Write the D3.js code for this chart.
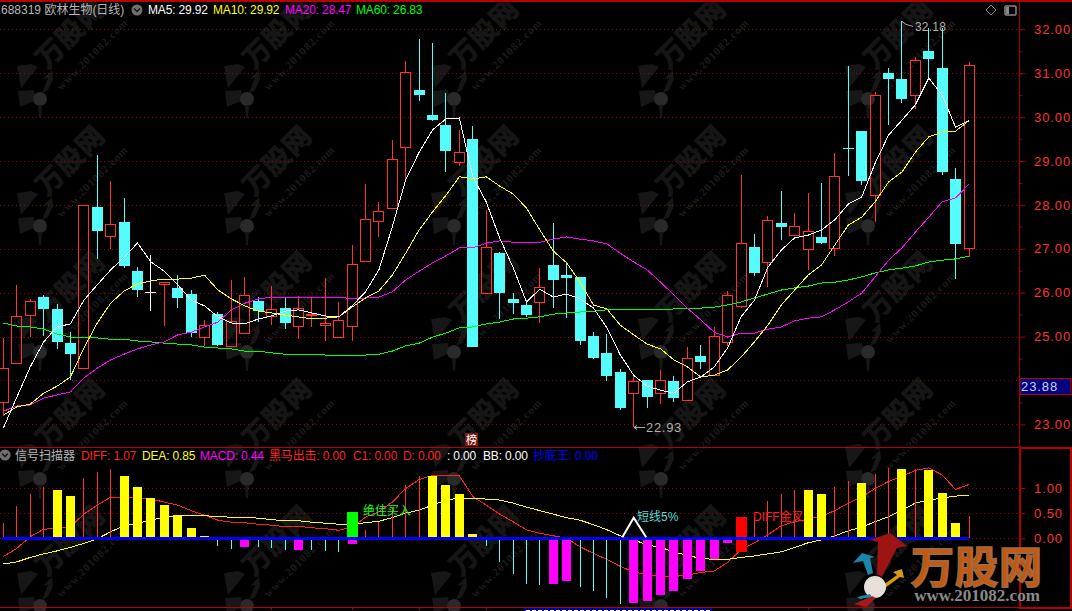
<!DOCTYPE html>
<html>
<head>
<meta charset="utf-8">
<title>688319 欧林生物(日线)</title>
<script src="https://cdnjs.cloudflare.com/ajax/libs/d3/7.8.5/d3.min.js"></script>
<style>
    html, body { margin: 0; padding: 0; background: #000; overflow: hidden; }
    svg { display: block; }
    text { font-family: "Liberation Sans", "Noto Sans CJK SC", sans-serif; font-size: 12px; letter-spacing: -.15px; }
    .tick text { fill: #ff3232; font-size: 13px; letter-spacing: .9px; }
    .tick line, .domain { stroke: #a80000; }
</style>
</head>
<body>
<div id="chart"></div>
<script>
// candles, left to right
var open = [23.52, 24.40, 25.50, 25.90, 25.63, 24.85, 24.29, 27.95, 27.30, 27.61, 26.49, 26.02, 26.20, 26.11, 25.97, 25.00, 25.51, 24.79, 25.09, 25.81, 25.48, 25.66, 25.25, 25.49, 25.27, 25.00, 25.25, 26.73, 27.64, 27.94, 29.33, 30.62, 30.05, 29.81, 28.98, 29.50, 26.00, 26.90, 25.86, 25.72, 25.79, 26.63, 26.40, 26.36, 25.01, 24.63, 24.19, 23.72, 24.01, 23.72, 23.99, 23.56, 24.56, 24.12, 24.88, 25.70, 27.04, 26.71, 27.59, 27.32, 27.00, 27.27, 27.01, 29.29, 29.68, 28.22, 31.00, 30.87, 30.50, 31.50, 31.12, 28.59, 27.01];
var close = [24.28, 25.48, 25.81, 25.63, 24.88, 24.60, 28.00, 27.41, 27.56, 26.61, 26.06, 26.02, 26.24, 25.88, 25.08, 25.26, 24.81, 25.36, 25.94, 25.58, 25.64, 25.31, 25.65, 25.52, 25.32, 25.38, 26.65, 27.67, 27.85, 29.04, 31.02, 30.50, 29.93, 29.23, 29.20, 24.76, 27.03, 25.99, 25.77, 25.49, 26.12, 26.29, 26.33, 24.90, 24.51, 24.10, 23.37, 23.98, 23.62, 24.00, 23.60, 24.51, 24.42, 25.01, 25.95, 27.13, 26.45, 27.66, 27.50, 27.52, 27.41, 27.13, 28.65, 29.29, 28.54, 30.50, 30.87, 30.41, 31.29, 31.32, 28.75, 27.12, 31.18];
var high = [24.97, 26.18, 25.86, 25.95, 25.74, 25.10, 28.00, 29.14, 28.54, 28.16, 26.58, 26.86, 26.24, 26.40, 26.06, 25.38, 25.56, 26.29, 26.36, 25.90, 26.15, 25.90, 25.92, 25.88, 26.33, 25.79, 27.09, 28.48, 28.07, 29.48, 31.28, 31.78, 31.69, 30.55, 29.71, 29.80, 27.88, 26.93, 25.99, 25.83, 26.56, 27.59, 26.70, 26.36, 25.10, 25.06, 24.26, 24.15, 24.01, 24.24, 24.10, 24.76, 24.81, 25.22, 26.04, 28.68, 27.34, 27.75, 28.32, 27.82, 28.28, 28.50, 29.18, 31.16, 29.68, 30.57, 31.12, 32.18, 31.37, 32.03, 32.03, 28.84, 31.25];
var low = [23.19, 24.40, 25.00, 25.01, 24.72, 24.01, 24.29, 26.77, 27.00, 26.57, 25.90, 25.59, 25.24, 25.66, 24.99, 24.79, 24.79, 24.79, 25.09, 25.33, 25.26, 25.17, 24.94, 25.22, 24.90, 25.00, 24.90, 26.73, 27.28, 27.94, 28.52, 30.37, 29.91, 28.75, 28.89, 24.76, 26.00, 25.41, 25.51, 25.45, 25.32, 25.65, 25.42, 24.81, 24.49, 23.99, 23.33, 22.93, 23.37, 23.47, 23.51, 23.56, 24.26, 24.12, 24.79, 25.66, 26.38, 26.13, 27.20, 27.32, 26.52, 27.11, 26.84, 28.66, 28.45, 27.61, 29.82, 30.32, 30.18, 30.89, 28.68, 26.31, 26.82];
var dojiWhite = [11];

var ma5 = [22.92, 23.62, 24.31, 24.88, 25.22, 25.29, 25.83, 26.18, 26.52, 26.81, 27.13, 26.70, 26.49, 26.18, 25.83, 25.70, 25.45, 25.31, 25.29, 25.40, 25.47, 25.58, 25.61, 25.54, 25.47, 25.45, 25.70, 26.02, 26.52, 27.50, 28.57, 29.20, 29.71, 29.96, 29.98, 28.64, 28.07, 27.25, 26.58, 25.79, 26.08, 25.90, 25.97, 25.86, 25.65, 25.20, 24.58, 24.12, 23.87, 23.78, 23.71, 23.97, 24.08, 24.31, 24.74, 25.45, 25.83, 26.58, 26.97, 27.25, 27.31, 27.43, 27.66, 28.02, 28.18, 28.95, 29.59, 29.93, 30.28, 30.89, 30.50, 29.77, 29.92];
var ma10 = [23.21, 23.40, 23.46, 23.71, 23.87, 24.08, 24.74, 25.31, 25.76, 26.04, 26.20, 26.27, 26.31, 26.31, 26.33, 26.40, 26.06, 25.86, 25.70, 25.58, 25.54, 25.49, 25.45, 25.40, 25.42, 25.45, 25.67, 25.88, 26.04, 26.40, 26.90, 27.43, 27.84, 28.22, 28.64, 28.59, 28.64, 28.43, 28.25, 27.93, 27.43, 26.95, 26.68, 26.24, 25.72, 25.63, 25.26, 25.04, 24.83, 24.72, 24.47, 24.31, 24.08, 24.12, 24.24, 24.53, 24.88, 25.26, 25.72, 26.06, 26.40, 26.63, 27.09, 27.54, 27.72, 28.07, 28.52, 28.75, 29.20, 29.55, 29.66, 29.68, 29.92];
var ma20 = [23.30, 23.42, 23.44, 23.60, 23.67, 23.74, 24.06, 24.28, 24.47, 24.60, 24.72, 24.81, 24.88, 25.04, 25.10, 25.22, 25.33, 25.61, 25.76, 25.86, 25.90, 25.88, 25.88, 25.88, 25.90, 25.90, 25.86, 25.88, 25.90, 26.02, 26.29, 26.49, 26.68, 26.84, 27.02, 27.02, 27.13, 27.18, 27.15, 27.15, 27.15, 27.22, 27.27, 27.22, 27.18, 27.11, 26.90, 26.70, 26.52, 26.24, 25.95, 25.65, 25.38, 25.10, 24.99, 25.08, 25.08, 25.17, 25.22, 25.36, 25.42, 25.45, 25.61, 25.79, 25.99, 26.36, 26.74, 27.02, 27.38, 27.72, 28.07, 28.16, 28.47];
var ma60 = [25.31, 25.24, 25.22, 25.17, 25.06, 24.99, 24.97, 24.97, 24.94, 24.94, 24.90, 24.88, 24.85, 24.83, 24.81, 24.76, 24.74, 24.72, 24.67, 24.67, 24.63, 24.60, 24.60, 24.60, 24.58, 24.56, 24.56, 24.58, 24.60, 24.67, 24.79, 24.85, 24.99, 25.08, 25.20, 25.22, 25.29, 25.33, 25.40, 25.42, 25.45, 25.51, 25.54, 25.56, 25.58, 25.61, 25.61, 25.61, 25.61, 25.61, 25.63, 25.63, 25.65, 25.67, 25.72, 25.79, 25.88, 25.97, 26.06, 26.11, 26.15, 26.22, 26.24, 26.29, 26.36, 26.45, 26.52, 26.56, 26.61, 26.70, 26.74, 26.77, 26.83];

// lower panel
var diff = [-0.36, -0.20, 0.03, 0.18, 0.20, 0.23, 0.48, 0.66, 0.82, 0.82, 0.80, 0.78, 0.72, 0.66, 0.55, 0.46, 0.36, 0.32, 0.31, 0.28, 0.26, 0.23, 0.24, 0.21, 0.19, 0.16, 0.22, 0.42, 0.53, 0.72, 0.99, 1.17, 1.25, 1.25, 1.24, 0.83, 0.66, 0.48, 0.33, 0.17, 0.10, 0.05, 0.00, -0.17, -0.30, -0.42, -0.56, -0.67, -0.72, -0.76, -0.76, -0.73, -0.68, -0.65, -0.48, -0.23, -0.09, 0.07, 0.25, 0.33, 0.38, 0.44, 0.55, 0.70, 0.82, 0.99, 1.13, 1.23, 1.35, 1.40, 1.26, 0.97, 1.07];
var dea = [-0.51, -0.47, -0.38, -0.31, -0.25, -0.18, -0.10, -0.01, 0.13, 0.25, 0.30, 0.36, 0.42, 0.45, 0.46, 0.45, 0.43, 0.42, 0.42, 0.40, 0.37, 0.35, 0.35, 0.32, 0.30, 0.28, 0.28, 0.31, 0.34, 0.41, 0.50, 0.56, 0.66, 0.76, 0.80, 0.80, 0.78, 0.76, 0.70, 0.62, 0.55, 0.48, 0.41, 0.36, 0.27, 0.17, 0.05, -0.03, -0.13, -0.18, -0.27, -0.34, -0.40, -0.42, -0.42, -0.38, -0.35, -0.31, -0.27, -0.18, -0.09, -0.03, 0.05, 0.15, 0.22, 0.33, 0.43, 0.56, 0.70, 0.76, 0.80, 0.84, 0.85];
var macd = [0.30, 0.64, 0.88, 1.01, 0.96, 0.84, 1.20, 1.32, 1.38, 1.24, 1.02, 0.80, 0.66, 0.46, 0.21, 0.05, -0.15, -0.21, -0.17, -0.17, -0.19, -0.23, -0.23, -0.23, -0.25, -0.27, -0.11, 0.17, 0.33, 0.63, 1.06, 1.24, 1.24, 1.06, 0.88, 0.09, -0.15, -0.47, -0.71, -0.91, -0.93, -0.91, -0.85, -0.97, -1.05, -1.19, -1.31, -1.29, -1.25, -1.13, -1.05, -0.81, -0.65, -0.41, -0.10, -0.27, 0.42, 0.74, 0.88, 0.96, 0.96, 0.88, 1.01, 1.14, 1.10, 1.28, 1.40, 1.38, 1.38, 1.36, 0.90, 0.30, 0.44];
var fatBars = [4, 5, 9, 10, 11, 12, 13, 14, 15, 18, 22, 26, 32, 33, 34, 35, 41, 42, 47, 48, 49, 50, 51, 52, 53, 54, 60, 61, 64, 67, 69, 70, 71];
var signalAt = [26, 55];
var signalTop = [0.52, 0.42];
var signalBottom = [0, -0.27];
var signalColor = ["#00ff00", "#ff0000"];

var priceTicks = [23, 24, 25, 26, 27, 28, 29, 30, 31, 32];
var priceMinor = [22.5, 23.5, 24.5, 25.5, 26.5, 27.5, 28.5, 29.5, 30.5, 31.5];
var macdTicks = [0, 0.5, 1];
var currentPrice = 23.88;
var timeTicks = [3, 20, 26, 31, 36, 60];

var titleLabels = [["MA5: 29.92", "#fff", 148], ["MA10: 29.92", "#ffff00", 213], ["MA20: 28.47", "#ff00ff", 285], ["MA60: 26.83", "#00ff00", 356]];
var lowerLabels = [["DIFF: 1.07", "#ff2020", 81], ["DEA: 0.85", "#ffff00", 142], ["MACD: 0.44", "#ff00ff", 200], ["黑马出击: 0.00", "#ff2020", 269], ["C1: 0.00", "#ff2020", 353], ["D: 0.00", "#ff2020", 403], [": 0.00", "#fff", 447], ["BB: 0.00", "#fff", 483], ["抄底王: 0.00", "#0000ff", 533]];

var width = 1072, height = 611, plotRight = 1019;

var x = d3.scaleLinear().domain([0, open.length - 1]).range([3.4, 969]);
var y = d3.scaleLinear().domain([23, 32]).range([424.4, 29.3]);
var yLow = d3.scaleLinear().domain([0, 1]).range([538.3, 488]);
var px = function (i) { return Math.floor(x(i)); };

var red = "#ff3232", cyan = "#54fcfc";

var svg = d3.select("#chart").append("svg")
    .attr("width", width)
    .attr("height", height);

svg.append("rect").attr("width", width).attr("height", height).attr("fill", "#000");

// repeated site watermark, lies under everything
var defs = svg.append("defs");
var wm = defs.append("g").attr("id", "wm");
wm.append("text").attr("transform", "rotate(-45)").attr("text-anchor", "middle")
    .attr("fill", "#161616").attr("stroke", "#161616").attr("stroke-width", 1)
    .style("font-size", "27px").style("font-weight", "bold").style("letter-spacing", "1px").text("万股网");
wm.append("text").attr("transform", "translate(18,17) rotate(-45)").attr("text-anchor", "middle")
    .attr("fill", "#1c1c1c").style("font-family", "Liberation Serif").style("font-size", "11px")
    .style("font-weight", "bold").style("letter-spacing", "1px").text("www.201082.com");
var bull = wm.append("g").attr("transform", "translate(-37,54)").attr("fill", "#171717");
bull.append("path").attr("d", "M-6,-4 L-22,-3 L-20,13 L-4,6Z");
bull.append("path").attr("d", "M-19,-6 L-2,-27 L-9,-30 L-23,-28Z");
bull.append("path").attr("d", "M2,-1 L8,-16 L3,-15 L12,-24 L13,-15 L8,-4Z");
bull.append("circle").attr("r", 7).attr("cy", 5).attr("fill", "#2a2a2a");
bull.append("path").attr("d", "M-2,11 L2,11 L1,24 L-1,24Z");

[40, 167, 293, 420, 547].forEach(function (wy) {
    [77, 284, 491, 698, 905].forEach(function (wx) {
        svg.append("use").attr("href", "#wm").attr("x", wx).attr("y", wy);
    });
});

// frame
var frame = svg.append("g").attr("stroke", "#b80000").attr("shape-rendering", "crispEdges");
frame.append("rect").attr("x", 0).attr("y", 0).attr("width", width).attr("height", 2).attr("fill", "#b80000").attr("stroke", "none");
[447.5, 607.5].forEach(function (ly) {
    frame.append("line").attr("x1", 0).attr("x2", width).attr("y1", ly).attr("y2", ly);
});
frame.append("rect").attr("x", 1020).attr("y", 447.5).attr("width", 51).attr("height", 160).attr("fill", "none").attr("stroke-width", 2);
frame.selectAll(".timeTick").data(timeTicks).enter().append("line")
    .attr("x1", function (d) { return px(d) + 0.5; })
    .attr("x2", function (d) { return px(d) + 0.5; })
    .attr("y1", 607.5).attr("y2", 610);

// dotted grid
var grid = svg.append("g").attr("stroke", "#a00000").attr("stroke-dasharray", "1,3").attr("shape-rendering", "crispEdges");
grid.selectAll(".p").data(priceTicks).enter().append("line")
    .attr("x1", 0).attr("x2", plotRight)
    .attr("y1", function (d) { return Math.round(y(d)) + 0.5; })
    .attr("y2", function (d) { return Math.round(y(d)) + 0.5; });
grid.selectAll(".m").data(macdTicks).enter().append("line")
    .attr("x1", 0).attr("x2", plotRight)
    .attr("y1", function (d) { return Math.round(yLow(d)) + 0.5; })
    .attr("y2", function (d) { return Math.round(yLow(d)) + 0.5; });

// candle wicks and bodies
var idx = d3.range(open.length);
var candles = svg.append("g").attr("shape-rendering", "crispEdges");

var isUp = function (i) { return close[i] > open[i]; };
var isDoji = function (i) { return close[i] === open[i]; };
var tone = function (i) {
    if (dojiWhite.indexOf(i) >= 0) return "#fff";
    return isUp(i) ? red : cyan;
};

candles.selectAll(".wick-hi").data(idx).enter().append("line")
    .attr("x1", function (i) { return px(i) + 0.5; })
    .attr("x2", function (i) { return px(i) + 0.5; })
    .attr("y1", function (i) { return y(high[i]); })
    .attr("y2", function (i) { return y(Math.max(open[i], close[i])); })
    .attr("stroke", tone);
candles.selectAll(".wick-lo").data(idx).enter().append("line")
    .attr("x1", function (i) { return px(i) + 0.5; })
    .attr("x2", function (i) { return px(i) + 0.5; })
    .attr("y1", function (i) { return y(Math.min(open[i], close[i])); })
    .attr("y2", function (i) { return y(low[i]); })
    .attr("stroke", tone);

candles.selectAll(".body-up").data(idx.filter(isUp)).enter().append("rect")
    .attr("x", function (i) { return px(i) - 4.5; })
    .attr("width", 10)
    .attr("y", function (i) { return Math.round(y(close[i])) + 0.5; })
    .attr("height", function (i) { return Math.round(y(open[i])) - Math.round(y(close[i])); })
    .attr("fill", "none")
    .attr("stroke", red);

candles.selectAll(".body-down").data(idx.filter(function (i) { return !isUp(i) && !isDoji(i); })).enter().append("rect")
    .attr("x", function (i) { return px(i) - 5; })
    .attr("width", 11)
    .attr("y", function (i) { return y(open[i]); })
    .attr("height", function (i) { return y(close[i]) - y(open[i]); })
    .attr("fill", cyan);

candles.selectAll(".doji").data(idx.filter(isDoji)).enter().append("line")
    .attr("x1", function (i) { return px(i) - 5; })
    .attr("x2", function (i) { return px(i) + 6; })
    .attr("y1", function (i) { return Math.round(y(open[i])) + 0.5; })
    .attr("y2", function (i) { return Math.round(y(open[i])) + 0.5; })
    .attr("stroke", tone);

// moving averages
function addLine(values, scale, color) {
    var line = d3.line()
        .x(function (d, i) { return x(i); })
        .y(function (d) { return scale(d); });
    svg.append("path")
        .attr("d", line(values))
        .attr("fill", "none")
        .attr("stroke", color)
        .attr("stroke-width", 1)
        .attr("shape-rendering", "crispEdges");
}

addLine(ma60, y, "#00ff00");
addLine(ma20, y, "#ff00ff");
addLine(ma10, y, "#ffff00");
addLine(ma5, y, "#ffffff");

// lower panel, lines sit under the bars
addLine(diff, yLow, "#ff2020");
addLine(dea, yLow, "#ffff00");

var bars = svg.append("g").attr("shape-rendering", "crispEdges");
var isFat = function (i) { return fatBars.indexOf(i) >= 0; };
var barColor = function (i) {
    if (macd[i] >= 0) return isFat(i) ? "#ffff00" : red;
    return isFat(i) ? "#ff00ff" : cyan;
};

bars.selectAll(".bar").data(idx).enter().append("rect")
    .attr("class", "bar")
    .attr("x", function (i) { return isFat(i) ? px(i) - 4 : px(i); })
    .attr("width", function (i) { return isFat(i) ? 9 : 1; })
    .attr("y", function (i) { return yLow(Math.max(macd[i], 0)); })
    .attr("height", function (i) { return Math.abs(yLow(macd[i]) - yLow(0)); })
    .attr("fill", barColor);

bars.selectAll(".signal").data(signalAt).enter().append("rect")
    .attr("x", function (d) { return px(d) - 5; })
    .attr("width", 11)
    .attr("y", function (d, i) { return yLow(signalTop[i]); })
    .attr("height", function (d, i) { return yLow(signalBottom[i]) - yLow(signalTop[i]); })
    .attr("fill", function (d, i) { return signalColor[i]; });

// zero line in blue
bars.append("rect")
    .attr("x", 2).attr("width", x(open.length - 1) - 2)
    .attr("y", Math.round(yLow(0)) - 1).attr("height", 3)
    .attr("fill", "#0000ff");

// little chevron of the 短线 signal
var chevron = d3.line();
svg.append("path")
    .attr("d", chevron([[x(46) + 2, yLow(0) - 1], [x(47), yLow(0.41)], [x(48) - 1, yLow(0) - 1]]))
    .attr("fill", "none").attr("stroke", "#fff").attr("stroke-width", 2);

// signal texts
svg.append("text").attr("x", 363).attr("y", 515).attr("fill", "#18ff18").style("letter-spacing", "0").text("绝佳买入");
svg.append("text").attr("x", 637).attr("y", 521).attr("fill", "#5fd8d8").style("letter-spacing", "0").text("短线5%");
svg.append("text").attr("x", 753).attr("y", 521).attr("fill", "#ff2020").style("letter-spacing", "0").text("DIFF金叉");

// axes, the 24.00 label is covered by the price flag
var priceFormat = function (d) { return d === 24 ? "" : d3.format(".2f")(d); };
var axisPrice = d3.axisRight(y).tickValues(priceTicks).tickSize(6).tickFormat(priceFormat).tickPadding(9);
var axisPriceMinor = d3.axisRight(y).tickValues(priceMinor).tickSize(3).tickFormat("");
var axisMacd = d3.axisRight(yLow).tickValues(macdTicks).tickSize(6).tickFormat(d3.format(".2f")).tickPadding(9);

var gAxis = svg.append("g").attr("transform", "translate(" + plotRight + ",0)");
gAxis.call(axisPrice);
gAxis.append("g").call(axisPriceMinor);
var gMacd = svg.append("g").attr("transform", "translate(" + plotRight + ",0)").call(axisMacd);
gAxis.selectAll(".domain").attr("d", "M0.5,2V447");
gMacd.select(".domain").attr("d", "M0.5,447V607");

// current price flag
var flagY = Math.round(y(currentPrice));
svg.append("rect").attr("x", 1020).attr("y", flagY - 7.5).attr("width", 51).attr("height", 16)
    .attr("fill", "#000080").attr("stroke", "#c00000");
svg.append("text").attr("x", 1021).attr("y", flagY + 5).attr("fill", "#d0d0ff")
    .style("font-size", "13px").style("letter-spacing", ".9px").text(d3.format(".2f")(currentPrice));

// high and low flags
var lowAt = low.indexOf(d3.min(low)), highAt = high.indexOf(d3.max(high));
svg.append("path").attr("fill", "none").attr("stroke", "#b0b0b0")
    .attr("d", d3.line()([[px(lowAt) + 1, y(low[lowAt])], [px(lowAt) + 12, y(low[lowAt])]]));
svg.append("path").attr("fill", "none").attr("stroke", "#b0b0b0")
    .attr("d", d3.line()([[px(lowAt) + 4, y(low[lowAt]) - 2], [px(lowAt) + 1, y(low[lowAt])], [px(lowAt) + 4, y(low[lowAt]) + 2]]));
svg.append("text").attr("x", px(lowAt) + 13).attr("y", y(low[lowAt]) + 5).attr("fill", "#b0b0b0")
    .style("font-size", "13px").style("letter-spacing", ".7px").text(d3.format(".2f")(low[lowAt]));
svg.append("path").attr("fill", "none").attr("stroke", "#b0b0b0")
    .attr("d", d3.line()([[px(highAt) + 1, y(high[highAt])], [px(highAt) + 5, y(high[highAt]) + 3], [px(highAt) + 12, y(high[highAt]) + 5]]));
svg.append("text").attr("x", px(highAt) + 14).attr("y", y(high[highAt]) + 10).attr("fill", "#b0b0b0")
    .style("letter-spacing", ".2px").text(d3.format(".2f")(high[highAt]));

// header rows
function addIcon(cx, cy) {
    svg.append("circle").attr("cx", cx).attr("cy", cy).attr("r", 5.5).attr("fill", "#707070");
    svg.append("path").attr("fill", "none").attr("stroke", "#111").attr("stroke-width", 1.3)
        .attr("d", d3.line()([[cx - 3, cy - 1.5], [cx, cy + 1.5], [cx + 3, cy - 1.5]]));
}
svg.append("text").attr("x", 1).attr("y", 14).attr("fill", "#b8b8b8").style("letter-spacing", "0").text("688319 欧林生物(日线)");
addIcon(137, 10);
titleLabels.forEach(function (d) {
    svg.append("text").attr("x", d[2]).attr("y", 14).attr("fill", d[1]).text(d[0]);
});
addIcon(5, 455);
svg.append("text").attr("x", 15).attr("y", 460).attr("fill", "#b8b8b8").style("letter-spacing", "0").text("信号扫描器");
lowerLabels.forEach(function (d) {
    svg.append("text").attr("x", d[2]).attr("y", 460).attr("fill", d[1]).text(d[0]);
});

// top right icons
svg.append("path").attr("d", "M991,5 L996,10 L991,15 L986,10Z").attr("fill", "none").attr("stroke", "#888");
svg.append("rect").attr("x", 1005).attr("y", 6).attr("width", 11).attr("height", 9).attr("rx", 1).attr("fill", "none").attr("stroke", "#888").attr("stroke-width", 1.5);
svg.append("rect").attr("x", 1006).attr("y", 7).attr("width", 3).attr("height", 7).attr("fill", "#888");

// 榜 marker
svg.append("rect").attr("x", 465).attr("y", 433).attr("width", 13).attr("height", 13).attr("fill", "#7a1a10");
svg.append("text").attr("x", 466).attr("y", 444).attr("fill", "#fff").style("font-size", "11px").style("letter-spacing", "0").text("榜");

// bottom status strip, cut off by the window
svg.append("rect").attr("x", 524).attr("y", 608).attr("width", 188).attr("height", 4).attr("fill", "#000090");
svg.append("line").attr("x1", 526).attr("x2", 710).attr("y1", 610.5).attr("y2", 610.5)
    .attr("stroke", "#fff").attr("stroke-dasharray", "4,2");

// site logo, bottom right
var logo = svg.append("g");
logo.append("path").attr("fill", "#9c1414").attr("d", "M870,540 L890,533 L907,546 L897,548 L882,577 L877,574 L878,542Z");
logo.append("path").attr("fill", "#1a87a8").attr("d", "M853,563 L862,553 L875,557 L870,558 L873,573 L868,575 L863,561Z");
logo.append("path").attr("fill", "#d49a10").attr("d", "M893,572 L902,569 L904,578 L900,577 L885,588 L883,585 L897,575Z");
logo.append("circle").attr("cx", 875).attr("cy", 587).attr("r", 11).attr("fill", "#e8e0d8");
logo.append("path").attr("fill", "#a81818").attr("d", "M854,604 L872,596 L876,598 L866,607Z");
logo.append("path").attr("fill", "#1a87a8").attr("d", "M857,597 L870,594 L872,597 L860,599Z");
logo.append("text").attr("x", 977).attr("y", 583).attr("text-anchor", "middle")
    .attr("fill", "#c8560c").attr("stroke", "#a06a40").attr("stroke-width", 1.8)
    .style("font-size", "43px").style("font-weight", "bold").style("letter-spacing", "1px").text("万股网");
logo.append("text").attr("x", 977).attr("y", 601).attr("text-anchor", "middle")
    .attr("fill", "#8a8a8a")
    .style("font-family", "Liberation Serif").style("font-size", "17px").style("font-weight", "bold")
    .style("letter-spacing", "0").text("www.201082.com");
</script>
</body>
</html>
